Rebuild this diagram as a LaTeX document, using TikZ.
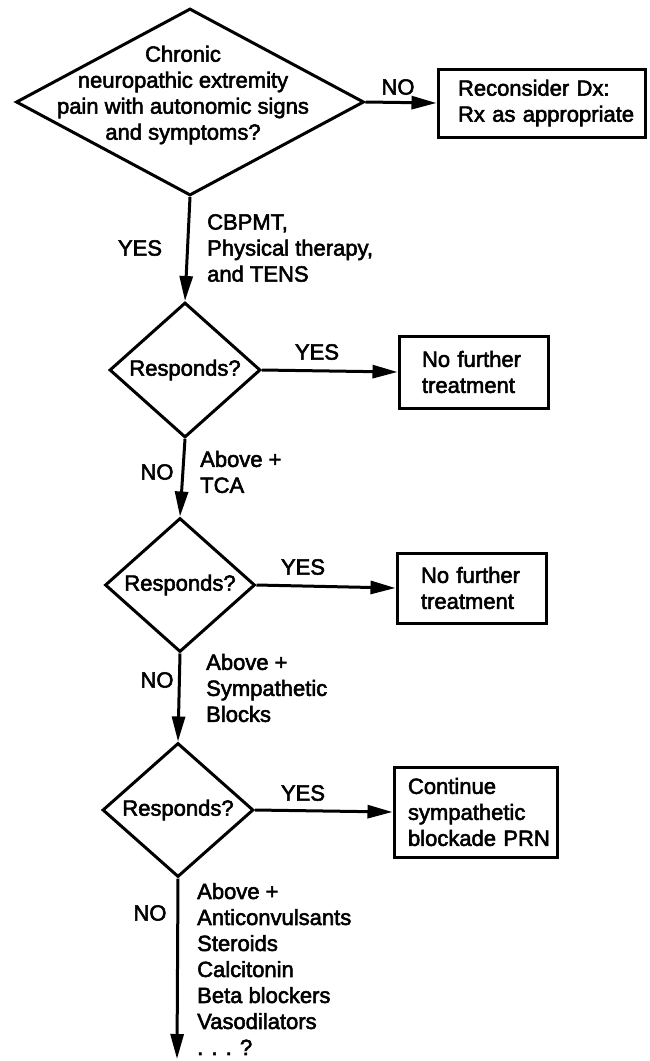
\documentclass[tikz,border=0pt]{standalone}
\usepackage{fontspec}
\setmainfont{Liberation Sans}[BoldFont={Liberation Sans}, BoldFeatures={FakeBold=2.5}]
\usetikzlibrary{shapes.geometric,arrows.meta}

\tikzset{
    choice/.style={draw, diamond, line width=3pt, inner sep=0pt, minimum width=150pt, minimum height=134pt},
    result/.style={draw, rectangle, line width=3pt, align=left},
    flow/.style={-{Triangle[length=25pt,width=13pt]}, line width=3pt},
    txt/.style={inner sep=0pt, align=left},
}

\begin{document}
\begin{tikzpicture}[x=1pt, y=-1pt, font=\fontsize{22}{26}\selectfont\bfseries]
    \useasboundingbox (0,0) rectangle (649,1061);

    % first question
    \node[choice, minimum width=348pt, minimum height=187pt] (q1) at (190,102) {};
    \node[txt, align=center] (q1text) at (183,95) {Chronic\\neuropathic extremity\\pain with autonomic signs\\and symptoms?};
    \node[result, text width=167pt, inner xsep=20pt, minimum height=68pt] (dx) at (541.5,103) {\mbox{Reconsider Dx:}\\\mbox{Rx as appropriate}};
    \draw[flow] (q1.east) -- (dx.west);
    \node[txt] (no1) at (398,87) {NO};

    % first treatment
    \node[choice, minimum width=151pt, minimum height=135pt] (q2) at (185,370) {Responds?};
    \draw[flow] (q1.south) -- (q2.north);
    \node[txt] (yes1) at (140,248) {YES};
    \node[txt, anchor=west] (cbpmt) at (207,248) {CBPMT,\\Physical therapy,\\and TENS};
    \node[result, text width=103pt, inner xsep=23pt, minimum height=72pt] (stop2) at (473.5,372) {\mbox{No further}\\treatment};
    \draw[flow] (q2.east) -- (stop2.west);
    \node[txt] (yes2) at (317,352) {YES};

    % tricyclics
    \node[choice] (q3) at (180,585) {Responds?};
    \draw[flow] (q2.south) -- (q3.north);
    \node[txt] (no2) at (157,472) {NO};
    \node[txt, anchor=west] (tca) at (200,472) {Above +\\TCA};
    \node[result, text width=101pt, inner xsep=24pt, minimum height=70pt] (stop3) at (471.5,588) {\mbox{No further}\\treatment};
    \draw[flow] (q3.east) -- (stop3.west);
    \node[txt] (yes3) at (303,567) {YES};

    % blocks
    \node[choice, minimum width=151pt] (q4) at (178,810) {Responds?};
    \draw[flow] (q3.south) -- (q4.north);
    \node[txt] (no3) at (157,680) {NO};
    \node[txt, anchor=west] (blocks) at (206,688) {Above +\\Sympathetic\\Blocks};
    \node[result, text width=135pt, inner xsep=14pt, minimum height=90pt] (prn) at (475.5,812) {Continue\\\mbox{sympathetic}\\\mbox{blockade PRN}};
    \draw[flow] (q4.east) -- (prn.west);
    \node[txt] (yes4) at (303,793) {YES};

    % everything else
    \coordinate (more) at (177,1059);
    \draw[flow] (q4.south) -- (more);
    \node[txt] (no4) at (150,913) {NO};
    \node[txt, anchor=west] (drugs) at (197,969) {Above +\\Anticonvulsants\\Steroids\\Calcitonin\\Beta blockers\\Vasodilators\\. . . ?};

\end{tikzpicture}
\end{document}
